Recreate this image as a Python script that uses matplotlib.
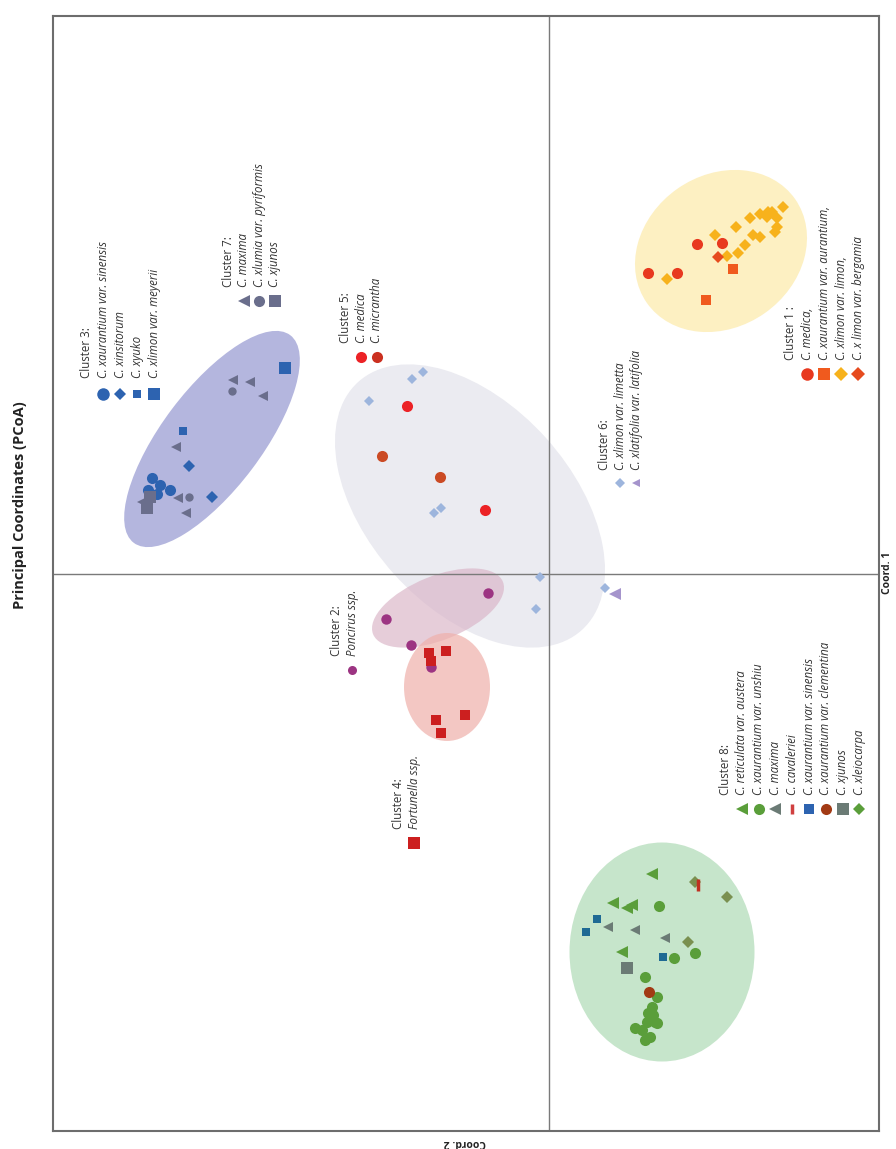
import matplotlib.pyplot as plt
from matplotlib.patches import Ellipse

plt.rcParams["font.family"] = ["Open Sans", "DejaVu Sans"]

# Coordinates: coord1 (Coord. 1) and coord2 (Coord. 2)
# Cluster 1
c1_medica_coord1 = [3.01, 3.01, 3.30, 3.31]
c1_medica_coord2 = [-0.99, -1.28, -1.48, -1.73]
c1_aurantium_coord1 = [3.05, 2.74]
c1_aurantium_coord2 = [-1.84, -1.57]
c1_limon_coord1 = [2.95, 3.39, 3.18, 3.21, 3.29, 3.47, 3.56, 3.39, 3.37,
                   3.60, 3.57, 3.62, 3.56, 3.67, 3.42, 3.47, 3.62]
c1_limon_coord2 = [-1.18, -1.66, -1.78, -1.89, -1.96, -1.87, -2.01, -2.04, -2.11,
                   -2.11, -2.18, -2.23, -2.28, -2.34, -2.26, -2.28, -2.19]
c1_bergamia_coord1 = [3.17]
c1_bergamia_coord2 = [-1.69]

# Cluster 3
c3_sinensis_coord1 = [0.96, 0.89, 0.80, 0.84, 0.84]
c3_sinensis_coord2 = [3.97, 3.89, 3.92, 3.79, 4.01]
c3_insitorum_coord1 = [1.08, 0.77]
c3_insitorum_coord2 = [3.60, 3.37]
c3_yuko_coord1 = [1.43]
c3_yuko_coord2 = [3.66]
c3_meyerii_coord1 = [2.06]
c3_meyerii_coord2 = [2.64]

# Cluster 7
c7_maxima_coord1 = [1.94, 1.92, 1.78, 1.27, 0.76, 0.61, 0.72]
c7_maxima_coord2 = [3.16, 2.99, 2.86, 3.73, 3.71, 3.63, 4.07]
c7_lumia_coord1 = [1.83, 0.77]
c7_lumia_coord2 = [3.17, 3.60]
c7_junos_coord1 = [0.77, 0.66]
c7_junos_coord2 = [3.99, 4.02]

# Cluster 5
c5_medica_coord1 = [1.68, 0.64]
c5_medica_coord2 = [1.42, 0.64]
c5_micrantha_coord1 = [1.18, 0.97]
c5_micrantha_coord2 = [1.67, 1.09]

# Cluster 6
c6_limetta_coord1 = [1.95, 2.02, 1.73, 0.61, 0.66, -0.03, -0.35, -0.14]
c6_limetta_coord2 = [1.37, 1.26, 1.80, 1.15, 1.08, 0.09, 0.13, -0.56]
c6_latifolia_coord1 = [-0.20]
c6_latifolia_coord2 = [-0.66]

# Cluster 2 and 4
c2_poncirus_coord1 = [-0.19, -0.45, -0.71, -0.93]
c2_poncirus_coord2 = [0.61, 1.63, 1.38, 1.18]
c4_fortunella_coord1 = [-0.79, -0.77, -0.87, -1.46, -1.59, -1.41]
c4_fortunella_coord2 = [1.20, 1.03, 1.18, 1.13, 1.08, 0.84]

# Cluster 8
c8_austera_coord1 = [-3.00, -3.29, -3.34, -3.31, -3.78]
c8_austera_coord2 = [-1.03, -0.64, -0.78, -0.83, -0.73]
c8_unshiu_coord1 = [-3.32, -3.84, -3.79, -4.03, -4.23, -4.33, -4.39, -4.48,
                    -4.48, -4.54, -4.56, -4.66, -4.63, -4.49, -4.41]
c8_unshiu_coord2 = [-1.10, -1.25, -1.46, -0.96, -1.08, -1.03, -0.99, -1.06,
                    -0.98, -0.86, -0.93, -0.96, -1.01, -1.08, -1.04]
c8_maxima_coord1 = [-3.53, -3.56, -3.64]
c8_maxima_coord2 = [-0.59, -0.86, -1.16]
c8_cavaleriei_coord1 = [-3.11]
c8_cavaleriei_coord2 = [-1.49]
c8_sinensis_coord1 = [-3.45, -3.58, -3.83]
c8_sinensis_coord2 = [-0.48, -0.37, -1.14]
c8_clementina_coord1 = [-4.18]
c8_clementina_coord2 = [-1.00]
c8_junos_coord1 = [-3.94]
c8_junos_coord2 = [-0.78]
c8_leiocarpa_coord1 = [-3.23, -3.68, -3.08]
c8_leiocarpa_coord2 = [-1.78, -1.39, -1.46]

# Cluster ellipses: centre coord2, centre coord1, width, height, angle, colour, alpha
ellipse_coord2 = [-1.72, 3.37, 0.79, 1.11, 1.02, -1.13]
ellipse_coord1 = [3.23, 1.35, 0.68, -0.34, -1.13, -3.78]
ellipse_width = [1.81, 2.60, 3.34, 1.40, 0.86, 1.85]
ellipse_height = [1.52, 1.00, 2.04, 0.64, 1.08, 2.19]
ellipse_angle = [35, 53, -48, 22, 0, 0]
ellipse_color = ["#fdf0c2", "#b4b6de", "#ebebf1", "#d9b3c6", "#efb0aa", "#c6e5cb"]
ellipse_alpha = [1, 1, 1, 0.65, 0.7, 1]

W, H = 896, 1149
TEXT = "#333333"


def fig_xy(x, y):
    # pixel position on the page -> figure fraction
    return x / W, 1 - y / H


def add_legend(fig, x0, y0, ym, step, title, entries):
    fx, fy = fig_xy(x0, y0)
    fig.text(fx, fy, title, rotation=90, ha="center", va="bottom",
             fontsize=8.3, color=TEXT)
    for i, (label, marker, color, ms) in enumerate(entries, 1):
        x = x0 + i * step
        fx, fy = fig_xy(x, y0)
        fig.text(fx, fy, label, rotation=90, ha="center", va="bottom",
                 fontsize=8.3, style="italic", color=TEXT)
        mx, my = fig_xy(x, ym)
        fig.add_artist(plt.Line2D([mx], [my], marker=marker, color=color,
                                  markersize=ms, ls="none",
                                  mew=2.5 if marker == "|" else 0,
                                  transform=fig.transFigure))


fig = plt.figure(figsize=(W / 100, H / 100), dpi=100)
ax = fig.add_axes([53 / W, 1 - 1131 / H, 826 / W, 1115 / H])

for cx, cy, w, h, a, c, al in zip(ellipse_coord2, ellipse_coord1, ellipse_width,
                                  ellipse_height, ellipse_angle, ellipse_color,
                                  ellipse_alpha):
    # x axis is inverted, so the angle is mirrored
    ax.add_patch(Ellipse((cx, cy), w, h, angle=-a, facecolor=c, edgecolor="none",
                         alpha=al, zorder=1))

ax.axvline(0, color="#7a7a7a", lw=1, zorder=2)
ax.axhline(0, color="#7a7a7a", lw=1, zorder=2)

series = [
    (c1_medica_coord2, c1_medica_coord1, "o", "#e8391f", 8),
    (c1_aurantium_coord2, c1_aurantium_coord1, "s", "#f05a1e", 7),
    (c1_limon_coord2, c1_limon_coord1, "D", "#f7b21c", 6),
    (c1_bergamia_coord2, c1_bergamia_coord1, "D", "#e64b1e", 6.5),
    (c3_sinensis_coord2, c3_sinensis_coord1, "o", "#2d63b0", 8),
    (c3_insitorum_coord2, c3_insitorum_coord1, "D", "#2d63b0", 6),
    (c3_yuko_coord2, c3_yuko_coord1, "s", "#2d63b0", 6),
    (c3_meyerii_coord2, c3_meyerii_coord1, "s", "#2d63b0", 9),
    (c7_maxima_coord2, c7_maxima_coord1, "<", "#6a6e8c", 7),
    (c7_lumia_coord2, c7_lumia_coord1, "o", "#6a6e8c", 6),
    (c7_junos_coord2, c7_junos_coord1, "s", "#6a6e8c", 8),
    (c5_medica_coord2, c5_medica_coord1, "o", "#ec2226", 8),
    (c5_micrantha_coord2, c5_micrantha_coord1, "o", "#cb4a24", 8),
    (c6_limetta_coord2, c6_limetta_coord1, "D", "#9db5dd", 5),
    (c6_latifolia_coord2, c6_latifolia_coord1, "<", "#a594cc", 8),
    (c2_poncirus_coord2, c2_poncirus_coord1, "o", "#9c3482", 7.5),
    (c4_fortunella_coord2, c4_fortunella_coord1, "s", "#cc1f1f", 7.5),
    (c8_austera_coord2, c8_austera_coord1, "<", "#5a9e3a", 8),
    (c8_unshiu_coord2, c8_unshiu_coord1, "o", "#5a9e3a", 8),
    (c8_maxima_coord2, c8_maxima_coord1, "<", "#6b7b75", 7),
    (c8_leiocarpa_coord2, c8_leiocarpa_coord1, "D", "#7a9050", 6),
    (c8_cavaleriei_coord2, c8_cavaleriei_coord1, "|", "#c03020", 8),
    (c8_sinensis_coord2, c8_sinensis_coord1, "s", "#1f6a94", 6),
    (c8_clementina_coord2, c8_clementina_coord1, "o", "#a23a14", 8),
    (c8_junos_coord2, c8_junos_coord1, "s", "#6b7b75", 8),
]
for xs, ys, m, c, ms in series:
    ax.plot(xs, ys, ls="none", marker=m, color=c, markersize=ms,
            mew=2.5 if m == "|" else 0, zorder=3)

ax.set_xlim(4.96, -3.30)
ax.set_ylim(-5.57, 5.58)
ax.set_xticks([])
ax.set_yticks([])
for s in ax.spines.values():
    s.set_color("#6d6d6d")
    s.set_linewidth(1.5)

# titles (the whole figure is turned on its side)
fig.text(*fig_xy(20, 505), "Principal Coordinates (PCoA)", rotation=90,
         ha="center", va="center", fontsize=10.5, fontweight="bold", color="#222222")
fig.text(*fig_xy(887, 573), "Coord. 1", rotation=90, ha="center", va="center",
         fontsize=7.5, fontweight="bold", color="#222222")
fig.text(*fig_xy(465, 1142), "Coord. 2", rotation=180, ha="center", va="center",
         fontsize=7.5, fontweight="bold", color="#222222")

# legends
add_legend(fig, 86, 378, 394, 17, "Cluster 3:", [
    ("C. xaurantium var. sinensis", "o", "#2d63b0", 9),
    ("C. xinsitorum", "D", "#2d63b0", 6.5),
    ("C. xyuko", "s", "#2d63b0", 6),
    ("C. xlimon var. meyerii", "s", "#2d63b0", 8),
])
add_legend(fig, 228, 287, 301, 15.5, "Cluster 7:", [
    ("C. maxima", "<", "#6a6e8c", 8),
    ("C. xlumia var. pyriformis", "o", "#6a6e8c", 8),
    ("C. xjunos", "s", "#6a6e8c", 8),
])
add_legend(fig, 345, 343, 357, 16, "Cluster 5:", [
    ("C. medica", "o", "#ec2226", 8),
    ("C. micrantha", "o", "#cb3020", 8),
])
add_legend(fig, 604, 470, 483, 16, "Cluster 6:", [
    ("C. xlimon var. limetta", "D", "#9db5dd", 5.5),
    ("C. xlatifolia var. latifolia", "<", "#a594cc", 6),
])
add_legend(fig, 790, 360, 374, 17, "Cluster 1 :", [
    ("C. medica,", "o", "#e8391f", 9),
    ("C. xaurantium var. aurantium,", "s", "#f05a1e", 8),
    ("C. xlimon var. limon,", "D", "#f7b21c", 7),
    ("C. x limon var. bergamia", "D", "#e64b1e", 7),
])
add_legend(fig, 336, 656, 670, 16, "Cluster 2:", [
    ("Poncirus ssp.", "o", "#9c3482", 6.5),
])
add_legend(fig, 398, 829, 843, 16, "Cluster 4:", [
    ("Fortunella ssp.", "s", "#cc1f1f", 8),
])
add_legend(fig, 725, 795, 809, 16.8, "Cluster 8:", [
    ("C. reticulata var. austera", "<", "#5a9e3a", 8),
    ("C. xaurantium var. unshiu", "o", "#5a9e3a", 8),
    ("C. maxima", "<", "#6b7b75", 8),
    ("C. cavaleriei", "|", "#d04040", 7),
    ("C. xaurantium var. sinensis", "s", "#2d63b0", 7),
    ("C. xaurantium var. clementina", "o", "#a23a14", 8),
    ("C. xjunos", "s", "#6b7b75", 8),
    ("C. xleiocarpa", "D", "#5a9e3a", 6.5),
])

fig.savefig("out.png", dpi=100, facecolor="white")
